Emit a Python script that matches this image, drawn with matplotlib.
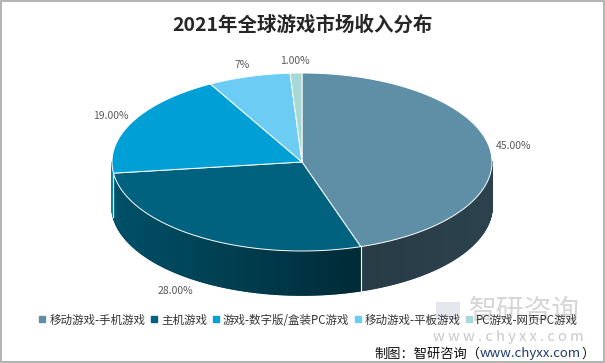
import numpy as np
import matplotlib.pyplot as plt
import matplotlib.colors as mcolors
from matplotlib.patches import Polygon, Rectangle
from matplotlib.collections import PolyCollection
from matplotlib.lines import Line2D

plt.rcParams['font.family'] = ['Noto Sans CJK SC', 'DejaVu Sans']

# 数据
categories = ["移动游戏-手机游戏", "主机游戏", "游戏-数字版/盒装PC游戏",
              "移动游戏-平板游戏", "PC游戏-网页PC游戏"]
shares = [45, 28, 19, 7, 1]
value_labels = ["45.00%", "28.00%", "19.00%", "7%", "1.00%"]
top_colors = ["#5E8FA6", "#00627F", "#00A0D6", "#6DCCF3", "#A7D8D6"]

W, H = 605, 363
fig = plt.figure(figsize=(W / 100, H / 100), dpi=100)
fig.patch.set_facecolor("white")
ax = fig.add_axes([0, 0, 1, 1])
ax.set_xlim(0, W)
ax.set_ylim(H, 0)
ax.axis("off")

# 饼图几何 (像素坐标)
cx, cy = 302, 162
rx, ry = 190, 89
depth = 44


def pt(theta_deg):
    t = np.radians(theta_deg)
    return cx + rx * np.cos(t), cy - ry * np.sin(t)


def shade(color, u):
    f = np.interp(u, [-1, 0.35, 1], [0.82, 0.42, 0.46])
    r, g, b = mcolors.to_rgb(color)
    return (r * f, g * f, b * f)


total = float(sum(shares))
bounds = 90 - 360 * np.concatenate([[0], np.cumsum(shares)]) / total

# 侧面
for i, c in enumerate(top_colors):
    a0, a1 = bounds[i], bounds[i + 1]
    t = np.linspace(a0, a1, max(int(abs(a0 - a1) * 2), 4))
    quads, cols = [], []
    for k in range(len(t) - 1):
        tm = 0.5 * (t[k] + t[k + 1])
        if np.sin(np.radians(tm)) >= 0:
            continue
        x0, y0 = pt(t[k])
        x1, y1 = pt(t[k + 1])
        quads.append([(x0, y0), (x1, y1), (x1, y1 + depth), (x0, y0 + depth)])
        cols.append(shade(c, np.cos(np.radians(tm))))
    if quads:
        pc = PolyCollection(quads, facecolors=cols, edgecolors=cols,
                            linewidths=1.2, zorder=1)
        ax.add_collection(pc)

# 侧面分隔线
for b in bounds[:-1]:
    if np.sin(np.radians(b)) < -0.05:
        x, y = pt(b)
        ax.plot([x, x], [y, y + depth], color="white", lw=0.8, zorder=2)

# 顶面
for i, c in enumerate(top_colors):
    a0, a1 = bounds[i], bounds[i + 1]
    t = np.linspace(a0, a1, max(int(abs(a0 - a1) * 2), 4))
    xs, ys = pt(t)
    verts = [(cx, cy)] + list(zip(xs, ys))
    ax.add_patch(Polygon(verts, closed=True, facecolor=c, edgecolor="white",
                         lw=0.7, joinstyle="round", zorder=3))

# 数据标签
for i, lab in enumerate(value_labels):
    mid = 0.5 * (bounds[i] + bounds[i + 1])
    t = np.radians(mid)
    lx = cx + (rx + 24) * np.cos(t)
    ly = cy - (ry + 12) * np.sin(t)
    if np.sin(t) < 0:
        lx -= 12
        ly += depth
    ax.text(lx, ly, lab, ha="center", va="center", fontsize=7.5,
            color="#595959", zorder=4)

# 标题
ax.text(303, 25, "2021年全球游戏市场收入分布", ha="center", va="center",
        fontsize=14, fontweight="bold", color="#262626")

# 水印
ax.add_patch(Rectangle((436, 302), 24, 18, facecolor="#E3E6EC",
                       edgecolor="none", zorder=0))
ax.text(524, 311, "智研咨询", ha="center", va="center", fontsize=20,
        color="#D6D6D6", zorder=0)
ax.text(508, 337, "w w w . c h y x x . c o m", ha="center", va="center",
        fontsize=10.5, color="#C8C8C8", zorder=0)

# 图例
handles = [Line2D([], [], marker="s", ls="", color=c, markersize=3.8)
           for c in top_colors]
ax.legend(handles, categories, loc="center", bbox_to_anchor=(0.51, 1 - 320 / H),
          ncol=5, frameon=False, fontsize=8.3, handlelength=0.6,
          handletextpad=0.3, columnspacing=0.45, borderpad=0,
          labelcolor="#333333")

# 来源
src1 = ax.text(374, 354, "制图：智研咨询（", ha="left", va="center",
               fontsize=9.5, color="#111111")
fig.canvas.draw()
r = fig.canvas.get_renderer()
inv = ax.transData.inverted()
xd = inv.transform((src1.get_window_extent(r).x1, 0))[0]
t2 = ax.text(xd, 354, "www.chyxx.com", ha="left", va="center", fontsize=9.5,
             color="#1F3A6B")
xd2 = inv.transform((t2.get_window_extent(r).x1, 0))[0]
ax.text(xd2, 354, "）", ha="left", va="center", fontsize=9.5, color="#111111")

# 外框
fig.add_artist(Rectangle((0.001, 0.002), 0.997, 0.995, transform=fig.transFigure,
                         fill=False, edgecolor="#A6A6A6", lw=1.2))

fig.savefig("out.png", dpi=100, facecolor="white")
